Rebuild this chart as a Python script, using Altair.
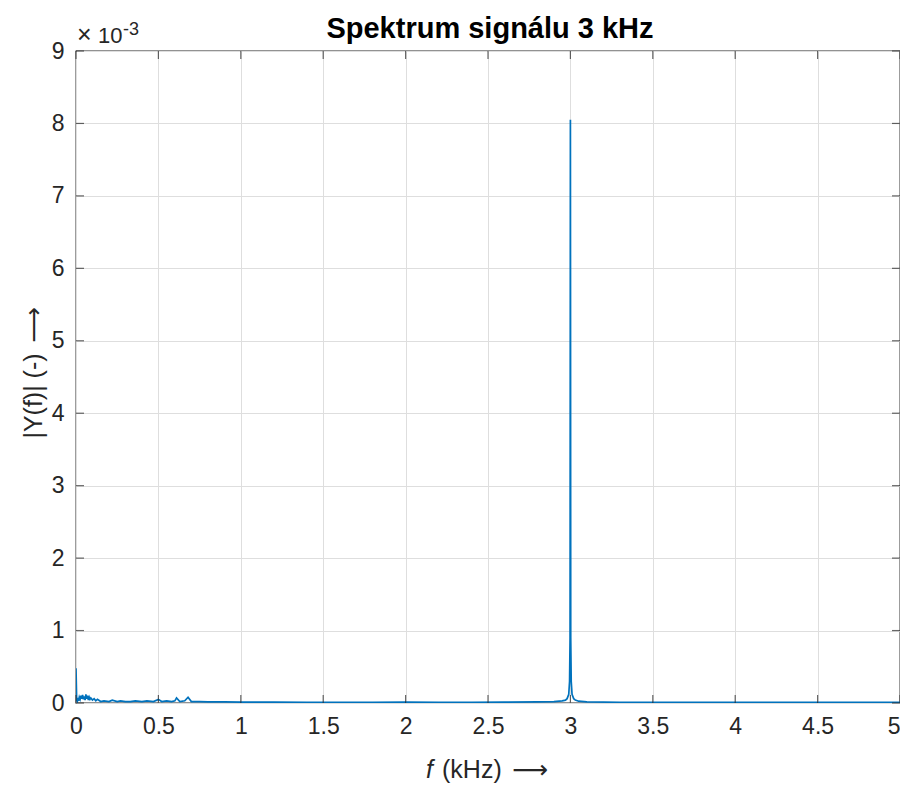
import altair as alt
import pandas as pd

# Frequency (kHz) and magnitude (x 1e-3)
freq_khz = [0.0, 0.004, 0.008, 0.012, 0.016, 0.02, 0.025, 0.03, 0.035, 0.04, 0.045, 0.05,
            0.055, 0.06, 0.065, 0.07, 0.075, 0.08, 0.085, 0.09, 0.1, 0.11, 0.12, 0.13,
            0.15, 0.17, 0.2, 0.22, 0.25, 0.27, 0.3, 0.33, 0.36, 0.4, 0.43, 0.47, 0.5,
            0.52, 0.55, 0.58, 0.6, 0.61, 0.63, 0.66, 0.68, 0.7, 0.75, 0.8, 0.9, 1.0,
            1.2, 1.4, 1.6, 1.8, 2.0, 2.2, 2.4, 2.6, 2.8, 2.9, 2.95, 2.97, 2.98, 2.99,
            2.995, 2.998, 3.0, 3.002, 3.005, 3.01, 3.02, 3.03, 3.05, 3.1, 3.3, 3.5,
            3.8, 4.0, 4.3, 4.6, 5.0]
magnitude = [0.48, 0.04, 0.02, 0.07, 0.03, 0.08, 0.05, 0.1, 0.06, 0.11, 0.05, 0.09,
             0.04, 0.12, 0.06, 0.1, 0.04, 0.08, 0.05, 0.07, 0.04, 0.06, 0.03, 0.05,
             0.02, 0.03, 0.02, 0.04, 0.02, 0.03, 0.02, 0.02, 0.03, 0.02, 0.03, 0.02, 0.05,
             0.02, 0.03, 0.02, 0.03, 0.07, 0.02, 0.03, 0.08, 0.02, 0.02, 0.015, 0.015, 0.012,
             0.012, 0.01, 0.01, 0.01, 0.012, 0.01, 0.01, 0.012, 0.015, 0.02, 0.03, 0.04, 0.06, 0.12,
             0.3, 0.9, 8.05, 0.9, 0.3, 0.12, 0.06, 0.04, 0.025, 0.015, 0.01, 0.01,
             0.01, 0.01, 0.01, 0.01, 0.01]

x_ticks = [0, 0.5, 1, 1.5, 2, 2.5, 3, 3.5, 4, 4.5, 5]
y_ticks = [0, 1, 2, 3, 4, 5, 6, 7, 8, 9]

title_text = "Spektrum signálu 3 kHz"
x_title_var = "f"
x_title_rest = "(kHz)"
y_title = "|Y(f)| (-)"
arrow = "\u27f6"

W, H = 824, 652
FONT = "Liberation Sans"
DARK = "#262626"

df = pd.DataFrame({"f": freq_khz, "y": magnitude})
xt = pd.DataFrame({"t": x_ticks})
yt = pd.DataFrame({"t": y_ticks})

xs = alt.Scale(domain=[0, 5], nice=False, zero=False)
ys = alt.Scale(domain=[0, 9], nice=False, zero=False)

line = alt.Chart(df).mark_line(color="#0072BD", strokeWidth=1.7, clip=True).encode(
    x=alt.X("f:Q", scale=xs, axis=alt.Axis(
        values=x_ticks, format="~g", title=None, labelPadding=12,
        labelAlign=alt.condition("datum.value == 5", alt.value("right"), alt.value("center")))),
    y=alt.Y("y:Q", scale=ys, axis=alt.Axis(values=y_ticks, format="~g", title=None,
                                           labelPadding=12)),
)

tk = dict(color=DARK, size=8, thickness=1.2)
tick_b = alt.Chart(xt).mark_tick(orient="vertical", **tk).encode(
    x=alt.X("t:Q", scale=xs), y=alt.value(H - 4))
tick_t = alt.Chart(xt).mark_tick(orient="vertical", **tk).encode(
    x=alt.X("t:Q", scale=xs), y=alt.value(4))
tick_l = alt.Chart(yt).mark_tick(orient="horizontal", **tk).encode(
    y=alt.Y("t:Q", scale=ys), x=alt.value(4))
tick_r = alt.Chart(yt).mark_tick(orient="horizontal", **tk).encode(
    y=alt.Y("t:Q", scale=ys), x=alt.value(W - 4))


def txt(s, x, y, size, font=FONT, **kw):
    return alt.Chart(pd.DataFrame({"s": [s]})).mark_text(
        font=font, fontSize=size, baseline="alphabetic", **kw
    ).encode(text="s:N", x=alt.value(x), y=alt.value(y))


xlab_f = txt(x_title_var, 357, H + 75, 25, fontStyle="italic", color=DARK, align="right")
xlab_rest = txt(x_title_rest, 366, H + 75, 25, color=DARK, align="left")
xlab_arrow = txt(arrow, 436, H + 75, 25, font="DejaVu Sans", color=DARK, align="left")
ylab = txt(y_title, -34, 345, 25, color=DARK, angle=270, align="center")
ylab_arrow = txt(arrow, -34, 274, 25, font="DejaVu Sans", color=DARK, angle=270, align="center")
exp_x = txt("\u00d7", 1, -8, 25, color=DARK, align="left")
exp_base = txt("10", 22, -8, 22, color=DARK, align="left")
exp_sup = txt("-3", 47, -16, 18, color=DARK, align="left")
title = txt(title_text, W / 2 + 2, -13, 29, color="#000000", align="center", fontWeight="bold")

chart = alt.layer(
    line, tick_b, tick_t, tick_l, tick_r, xlab_f, xlab_rest, xlab_arrow, ylab, ylab_arrow,
    exp_x, exp_base, exp_sup, title
).properties(
    width=W, height=H,
    background="white",
    autosize=alt.AutoSizeParams(type="none"),
    padding={"left": 68, "top": 43, "right": 0, "bottom": 83},
).configure_view(
    stroke=DARK, strokeWidth=1.3
).configure_axis(
    grid=True, gridColor="#dedede", gridWidth=1, ticks=False, domain=False,
    labelFontSize=23, labelFont=FONT, labelColor=DARK, labelFlush=False
)

chart.save("out.html", embed_options={"renderer": "svg", "actions": False})
